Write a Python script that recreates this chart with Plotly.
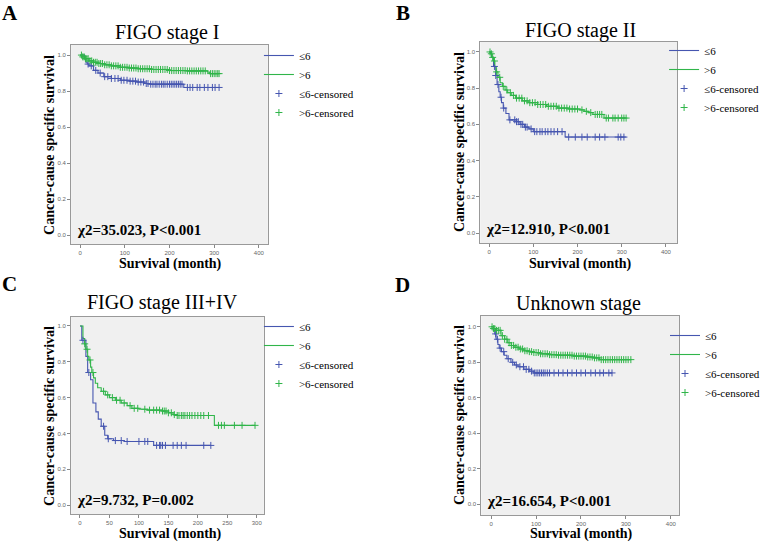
import numpy as np
import plotly.graph_objects as go

# ---------------- data ----------------
panel_titles = ["FIGO stage I", "FIGO stage II", "FIGO stage III+IV", "Unknown stage"]
panel_letters = ["A", "B", "C", "D"]
stats_text = ["χ2=35.023, P<0.001", "χ2=12.910, P<0.001", "χ2=9.732, P=0.002", "χ2=16.654, P<0.001"]
group_names = ["≤6", ">6"]
censor_names = ["≤6-censored", ">6-censored"]
x_title = "Survival (month)"
y_title = "Cancer-cause specific survival"

# Panel A  (FIGO stage I)
a_low_t = [0, 10, 13, 16, 20, 30, 40, 53, 70, 90, 110, 127, 145, 157, 232]
a_low_s = [1.0, 0.98, 0.96, 0.95, 0.94, 0.915, 0.9, 0.88, 0.87, 0.86, 0.855, 0.85, 0.842, 0.838, 0.82]
a_low_end = 311
a_low_c = [18, 25, 35, 45, 55, 62, 70, 78, 85, 92, 98, 105, 112, 118, 124, 130, 136, 142, 148, 152, 158, 163, 168,
           172, 177, 182, 186, 190, 195, 200, 204, 208, 212, 216, 220, 224, 228, 240, 246, 252, 262, 268, 278,
           286, 296, 302, 311]
a_high_t = [0, 5, 10, 20, 30, 40, 54, 70, 90, 110, 130, 160, 200, 240, 285, 290]
a_high_s = [1.0, 0.99, 0.98, 0.968, 0.96, 0.953, 0.946, 0.94, 0.932, 0.928, 0.924, 0.92, 0.914, 0.912, 0.905, 0.897]
a_high_end = 311
a_high_c = [3, 6, 9, 12, 15, 18, 22, 26, 30, 34, 38, 42, 46, 50, 55, 60, 65, 70, 75, 80, 85, 90, 95, 100, 105, 110,
            115, 120, 125, 130, 135, 140, 145, 150, 155, 160, 165, 170, 175, 180, 185, 190, 195, 200, 205, 210,
            215, 220, 225, 230, 235, 240, 245, 250, 255, 260, 265, 270, 275, 280, 292, 296, 300, 304, 308, 311]

# Panel B  (FIGO stage II)
b_low_t = [0, 5, 10, 15, 18, 22, 25, 28, 32, 38, 45, 62, 70, 80, 90, 100, 172]
b_low_s = [1.0, 0.97, 0.92, 0.87, 0.82, 0.78, 0.75, 0.72, 0.69, 0.66, 0.625, 0.615, 0.6, 0.585, 0.575, 0.56, 0.53]
b_low_end = 310
b_low_c = [12, 15, 20, 27, 33, 47, 58, 62, 66, 72, 76, 82, 86, 95, 103, 108, 115, 120, 127, 133, 140, 147, 155,
           165, 180, 195, 210, 222, 240, 250, 262, 292, 298, 305]
b_high_t = [0, 3, 6, 10, 13, 16, 20, 25, 30, 36, 42, 50, 60, 75, 90, 110, 130, 155, 180, 205, 215, 225, 235, 260]
b_high_s = [1.0, 0.99, 0.97, 0.95, 0.92, 0.89, 0.86, 0.83, 0.81, 0.79, 0.775, 0.76, 0.745, 0.73, 0.72, 0.71,
            0.70, 0.69, 0.685, 0.68, 0.672, 0.665, 0.655, 0.635]
b_high_end = 310
b_high_c = [2, 5, 8, 12, 17, 24, 32, 40, 48, 55, 62, 68, 74, 80, 86, 92, 98, 104, 110, 116, 122, 128, 134, 140,
            146, 152, 158, 164, 170, 176, 182, 188, 194, 200, 210, 220, 230, 240, 245, 250, 255, 265, 270, 280,
            285, 292, 300, 305, 310]

# Panel C  (FIGO stage III+IV)
c_low_t = [0, 3, 10, 13, 18, 22, 27, 31, 36, 42, 47, 57, 75, 125]
c_low_s = [1.0, 0.92, 0.83, 0.74, 0.70, 0.57, 0.52, 0.48, 0.44, 0.39, 0.37, 0.36, 0.355, 0.333]
c_low_end = 222
c_low_c = [5, 15, 40, 48, 60, 70, 80, 100, 110, 115, 130, 135, 137, 140, 145, 158, 165, 172, 180, 210, 222]
c_high_t = [0, 5, 8, 10, 13, 15, 18, 20, 23, 26, 30, 36, 43, 50, 60, 70, 80, 88, 100, 115, 140, 150, 158, 165, 228]
c_high_s = [1.0, 0.93, 0.90, 0.87, 0.83, 0.81, 0.77, 0.74, 0.71, 0.68, 0.655, 0.635, 0.615, 0.6, 0.585, 0.57,
            0.555, 0.54, 0.535, 0.53, 0.525, 0.515, 0.505, 0.5, 0.445]
c_high_end = 297
c_high_c = [8, 12, 17, 22, 40, 47, 55, 62, 68, 75, 85, 92, 98, 110, 118, 125, 130, 135, 140, 143, 146, 150, 155,
            160, 165, 168, 172, 175, 178, 182, 186, 190, 195, 200, 205, 210, 218, 235, 240, 245, 262, 275, 297]

# Panel D  (Unknown stage)
d_low_t = [0, 5, 8, 11, 15, 18, 23, 29, 35, 44, 52, 60, 73, 85, 95]
d_low_s = [1.0, 0.98, 0.96, 0.93, 0.90, 0.88, 0.86, 0.84, 0.82, 0.80, 0.785, 0.775, 0.76, 0.75, 0.74]
d_low_end = 269
d_low_c = [10, 14, 20, 28, 38, 48, 56, 64, 72, 78, 84, 90, 96, 100, 104, 108, 112, 116, 120, 125, 130, 140, 150,
           160, 170, 180, 190, 200, 210, 222, 232, 242, 250, 262, 269]
d_high_t = [0, 5, 10, 22, 30, 37, 45, 51, 62, 73, 85, 95, 110, 130, 146, 183, 212, 227, 241]
d_high_s = [1.0, 0.99, 0.98, 0.95, 0.93, 0.91, 0.895, 0.885, 0.875, 0.865, 0.86, 0.855, 0.848, 0.843, 0.84,
            0.835, 0.83, 0.825, 0.815]
d_high_end = 311
d_high_c = [2, 5, 8, 12, 16, 20, 25, 30, 35, 40, 45, 50, 55, 60, 65, 70, 75, 80, 85, 90, 95, 100, 105, 110, 115,
            120, 125, 130, 135, 140, 145, 150, 155, 160, 165, 170, 175, 180, 185, 190, 195, 200, 205, 210, 215,
            220, 225, 230, 235, 240, 245, 250, 255, 260, 265, 270, 275, 280, 285, 290, 295, 300, 305, 311]

panels = [
    (a_low_t, a_low_s, a_low_end, a_low_c, a_high_t, a_high_s, a_high_end, a_high_c),
    (b_low_t, b_low_s, b_low_end, b_low_c, b_high_t, b_high_s, b_high_end, b_high_c),
    (c_low_t, c_low_s, c_low_end, c_low_c, c_high_t, c_high_s, c_high_end, c_high_c),
    (d_low_t, d_low_s, d_low_end, d_low_c, d_high_t, d_high_s, d_high_end, d_high_c),
]

# ---------------- layout / style ----------------
W, H = 765, 543
BLUE = "#4656b0"
GREEN = "#30b54a"
SERIF = "Liberation Serif"

# plot boxes in window pixels: (left, right, top, bottom)
boxes = [(72, 271, 45, 244), (486, 685, 42, 243), (72, 267, 317, 514), (487, 687, 316, 515)]
xranges = [[-20, 420], [-20, 425], [-15, 312], [-22, 418]]
yranges = [[-0.05, 1.056], [-0.055, 1.055], [-0.05, 1.05], [-0.061, 1.061]]
xticks = [[0, 100, 200, 300, 400], [0, 100, 200, 300, 400], [0, 50, 100, 150, 200, 250, 300],
          [0, 100, 200, 300, 400]]
yticks = [0.0, 0.2, 0.4, 0.6, 0.8, 1.0]
letter_pos = [(10, 13), (408, 13), (10, 284), (407, 285)]
title_pos = [(169, 33), (587, 31), (164, 302), (585, 303)]
xtitle_pos = [(173, 264), (587, 264), (173, 534), (588, 534)]
ytitle_x = [50, 465, 50, 465]
legend_pos = [(262, 41), (672, 36), (262, 312), (673, 321)]


def px(x):
    return x / W


def py(y):
    return 1 - y / H


def step_value(t, s, x):
    idx = np.searchsorted(np.asarray(t), np.asarray(x), side="right") - 1
    return np.asarray(s)[idx]


fig = go.Figure()
annotations = []

for i, (lt, ls, lend, lc, ht, hs, hend, hc) in enumerate(panels):
    ax = "" if i == 0 else str(i + 1)
    xref, yref = "x" + ax, "y" + ax
    leg = "legend" + ax
    for (t, s, end, color, name) in [
        (lt, ls, lend, BLUE, group_names[0]),
        (ht, hs, hend, GREEN, group_names[1]),
    ]:
        xs = list(t) + [end]
        ys = list(s) + [s[-1]]
        fig.add_trace(go.Scatter(x=xs, y=ys, mode="lines", line=dict(color=color, width=1.1, shape="hv"),
                                 name=name, xaxis=xref, yaxis=yref, legend=leg, hoverinfo="skip"))
    for (t, s, c, color, cname) in [
        (lt, ls, lc, BLUE, censor_names[0]),
        (ht, hs, hc, GREEN, censor_names[1]),
    ]:
        fig.add_trace(go.Scatter(x=c, y=step_value(t, s, c), mode="markers",
                                 marker=dict(symbol="cross-thin", size=5, color=color,
                                             line=dict(width=1, color=color)),
                                 name=cname, xaxis=xref, yaxis=yref, legend=leg))

    l, r, t_, b = boxes[i]
    fig.update_layout(**{
        "xaxis" + ax: dict(domain=[px(l), px(r)], range=xranges[i], anchor=yref, tickvals=xticks[i],
                           ticks="outside", ticklen=3, tickcolor="#888", showgrid=False, zeroline=False,
                           showline=True, linecolor="#999", mirror=True, linewidth=1,
                           tickfont=dict(family="Arial", size=6, color="#666")),
        "yaxis" + ax: dict(domain=[py(b), py(t_)], range=yranges[i], anchor=xref, tickvals=yticks,
                           ticktext=["0.0", "0.2", "0.4", "0.6", "0.8", "1.0"],
                           ticks="outside", ticklen=3, tickcolor="#888", showgrid=False, zeroline=False,
                           showline=True, linecolor="#999", mirror=True, linewidth=1,
                           tickfont=dict(family="Arial", size=6, color="#666")),
        leg: dict(x=px(legend_pos[i][0]), y=py(legend_pos[i][1]), xanchor="left", yanchor="top",
                  bgcolor="rgba(0,0,0,0)", font=dict(family="Liberation Serif, Times New Roman, serif",
                                                     size=11, color="black"),
                  itemwidth=30, tracegroupgap=0, traceorder="normal"),
    })
    annotations.append(dict(text="<b>" + panel_letters[i] + "</b>", x=px(letter_pos[i][0]), y=py(letter_pos[i][1]),
                            xref="paper", yref="paper", showarrow=False, xanchor="center", yanchor="middle",
                            font=dict(family=SERIF, size=21, color="black")))
    annotations.append(dict(text=panel_titles[i], x=px(title_pos[i][0]), y=py(title_pos[i][1]),
                            xref="paper", yref="paper", showarrow=False, xanchor="center", yanchor="middle",
                            font=dict(family=SERIF, size=20, color="black")))
    annotations.append(dict(text="<b>" + x_title + "</b>", x=px(xtitle_pos[i][0]), y=py(xtitle_pos[i][1]),
                            xref="paper", yref="paper", showarrow=False, xanchor="center", yanchor="middle",
                            borderpad=0, font=dict(family=SERIF, size=14, color="black")))
    annotations.append(dict(text="<b>" + y_title + "</b>", x=px(ytitle_x[i]), y=py((t_ + b) / 2),
                            xref="paper", yref="paper", showarrow=False, xanchor="center", yanchor="middle",
                            textangle=-90, font=dict(family=SERIF, size=14, color="black")))
    annotations.append(dict(text="<b>" + stats_text[i] + "</b>", x=px(l + 4), y=py(b - 4),
                            xref="paper", yref="paper", showarrow=False, xanchor="left", yanchor="bottom",
                            font=dict(family=SERIF, size=15, color="black")))

fig.update_layout(
    width=W, height=H, margin=dict(l=0, r=0, t=0, b=0),
    font=dict(family=SERIF, color="black"),
    paper_bgcolor="white", plot_bgcolor="#f0f0f0",
    showlegend=True, annotations=annotations,
)

fig.write_html("out.html", config={"displayModeBar": False},
               post_script="document.body.style.margin='0px'; document.body.style.overflow='hidden';")
